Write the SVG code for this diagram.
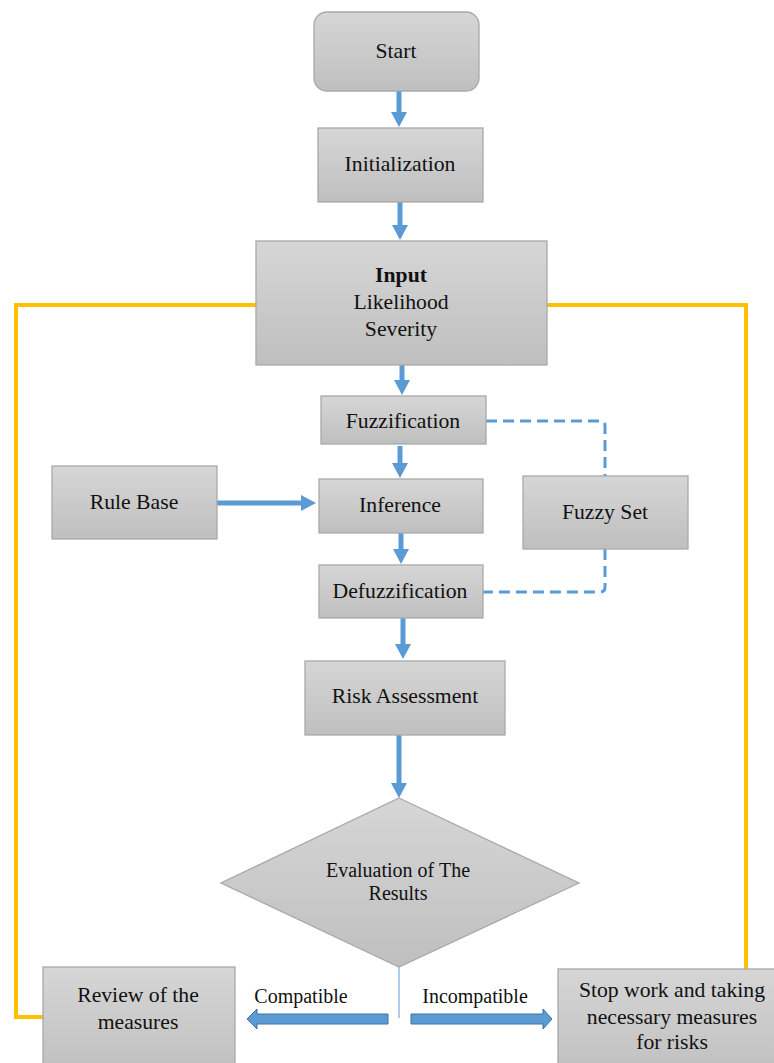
<svg xmlns="http://www.w3.org/2000/svg" width="774" height="1063" viewBox="0 0 774 1063">
<style>
.box{fill:url(#g);stroke:#a9a9a9;stroke-width:1.3}
.t{font-family:'Liberation Serif','DejaVu Serif',serif;font-size:21.7px;fill:#111;text-anchor:middle}
.s{font-size:20px}
.flow{stroke:#5B9BD5;stroke-width:5;fill:none;marker-end:url(#ah)}
.dash{stroke:#5B9BD5;stroke-width:3;fill:none;stroke-dasharray:11 6}
.loop{stroke:#FFC000;stroke-width:4;fill:none}
.block{fill:#5B9BD5;stroke:#41719C;stroke-width:1}
</style>
<defs>
<linearGradient id="g" x1="0" y1="0" x2="0" y2="1">
<stop offset="0" stop-color="#d6d6d6"/>
<stop offset="1" stop-color="#bfbfbf"/>
</linearGradient>
<marker id="ah" markerUnits="userSpaceOnUse" markerWidth="16" markerHeight="16" refX="2" refY="8" orient="auto">
<path d="M0,0 L15,8 L0,16 z" fill="#5B9BD5"/>
</marker>
</defs>
<g id="connectors">
<polyline class="loop" points="256,305 16,305 16,1017 43,1017"/>
<polyline class="loop" points="547,305 746,305 746,969"/>
<line class="flow" x1="399" y1="91" x2="399" y2="114"/>
<line class="flow" x1="400" y1="202" x2="400" y2="227"/>
<line class="flow" x1="402" y1="365" x2="402" y2="382"/>
<line class="flow" x1="400" y1="446" x2="400" y2="465"/>
<line class="flow" x1="401" y1="533" x2="401" y2="551"/>
<line class="flow" x1="403" y1="618" x2="403" y2="646"/>
<line class="flow" x1="399" y1="735" x2="399" y2="785"/>
<line class="flow" x1="217" y1="503" x2="303" y2="503"/>
<path class="dash" d="M486,421 H600 Q605,421 605,426 V476"/>
<path class="dash" d="M605,549 V587 Q605,592 600,592 H483"/>
<line x1="399" y1="967" x2="399" y2="1018" stroke="#5B9BD5" stroke-width="1"/>
<polygon class="block" points="388,1014 257,1014 257,1009 247,1019 257,1029 257,1024 388,1024"/>
<polygon class="block" points="411,1014 543,1014 543,1009 552,1019 543,1029 543,1024 411,1024"/>
<text class="t s" x="301" y="1003">Compatible</text>
<text class="t s" x="475" y="1003">Incompatible</text>
</g>
<g id="start">
<rect class="box" x="314" y="12" width="165" height="79" rx="13"/>
<text class="t" x="396" y="58">Start</text>
</g>
<g id="initialization">
<rect class="box" x="318" y="128" width="165" height="74"/>
<text class="t" x="400" y="171">Initialization</text>
</g>
<g id="input">
<rect class="box" x="256" y="241" width="291" height="124"/>
<text class="t" x="401" y="282" font-weight="bold">Input</text>
<text class="t" x="401" y="309">Likelihood</text>
<text class="t" x="401" y="336">Severity</text>
</g>
<g id="fuzzification">
<rect class="box" x="321" y="396" width="165" height="48"/>
<text class="t" x="403" y="428">Fuzzification</text>
</g>
<g id="rulebase">
<rect class="box" x="52" y="466" width="165" height="73"/>
<text class="t" x="134" y="509">Rule Base</text>
</g>
<g id="inference">
<rect class="box" x="319" y="479" width="164" height="54"/>
<text class="t" x="400" y="512">Inference</text>
</g>
<g id="fuzzyset">
<rect class="box" x="523" y="476" width="165" height="73"/>
<text class="t" x="605" y="519">Fuzzy Set</text>
</g>
<g id="defuzzification">
<rect class="box" x="319" y="565" width="164" height="53"/>
<text class="t" x="400" y="598">Defuzzification</text>
</g>
<g id="risk">
<rect class="box" x="305" y="661" width="200" height="74"/>
<text class="t" x="405" y="703">Risk Assessment</text>
</g>
<g id="evaluation">
<polygon class="box" points="399,798 579,883 399,967 221,883"/>
<text class="t s" x="398" y="877">Evaluation of The</text>
<text class="t s" x="398" y="900">Results</text>
</g>
<g id="review">
<rect class="box" x="43" y="967" width="192" height="110"/>
<text class="t" x="138" y="1002">Review of the</text>
<text class="t" x="138" y="1029">measures</text>
</g>
<g id="stop">
<rect class="box" x="558" y="969" width="230" height="110"/>
<text class="t" x="672" y="997">Stop work and taking</text>
<text class="t" x="672" y="1024">necessary measures</text>
<text class="t" x="672" y="1049">for risks</text>
</g>
</svg>
